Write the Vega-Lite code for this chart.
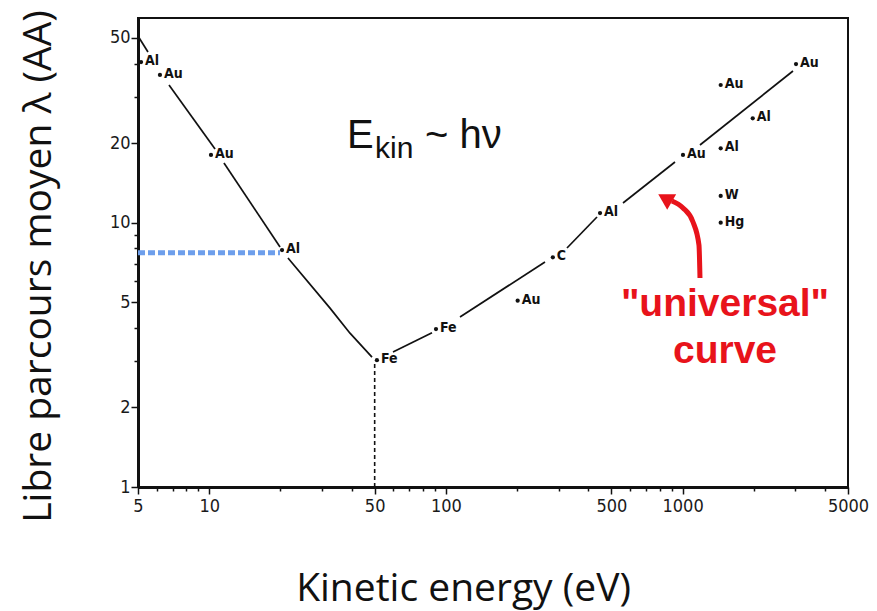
{
  "$schema": "https://vega.github.io/schema/vega-lite/v6.json",
  "width": 710,
  "height": 469,
  "autosize": "none",
  "padding": {"left": 138, "top": 18, "right": 29, "bottom": 124},
  "background": "white",
  "view": {"stroke": "#111111", "strokeWidth": 2},
  "config": {
    "axis": {
      "labelFont": "Liberation Sans Narrow, DejaVu Sans Condensed, sans-serif",
      "labelFontSize": 18,
      "labelColor": "#1a1a1a",
      "domainColor": "#111111",
      "domainWidth": 3,
      "tickColor": "#111111",
      "tickWidth": 1.5,
      "grid": false,
      "titleFont": "Open Sans",
      "titleFontSize": 39,
      "titleFontWeight": "normal",
      "titleColor": "#111111"
    }
  },
  "datasets": {
    "curve": [
      {"seg": 1, "x": 5.0, "y": 50.86},
      {"seg": 1, "x": 5.51, "y": 44.25},
      {"seg": 2, "x": 6.76, "y": 33.19},
      {"seg": 2, "x": 10.58, "y": 19.0},
      {"seg": 3, "x": 11.54, "y": 16.82},
      {"seg": 3, "x": 19.91, "y": 8.09},
      {"seg": 4, "x": 21.51, "y": 7.35},
      {"seg": 4, "x": 32.38, "y": 4.75},
      {"seg": 4, "x": 39.33, "y": 3.82},
      {"seg": 4, "x": 48.72, "y": 3.1},
      {"seg": 5, "x": 59.76, "y": 3.24},
      {"seg": 5, "x": 87.36, "y": 3.83},
      {"seg": 6, "x": 114.7, "y": 4.4},
      {"seg": 6, "x": 262.2, "y": 7.1},
      {"seg": 7, "x": 324.8, "y": 8.02},
      {"seg": 7, "x": 434.9, "y": 10.51},
      {"seg": 8, "x": 560.1, "y": 11.87},
      {"seg": 8, "x": 929.0, "y": 16.97},
      {"seg": 9, "x": 1184.5, "y": 19.68},
      {"seg": 9, "x": 2928, "y": 37.5}
    ],
    "points": [
      {"x": 5.15, "y": 40.55, "el": "Al"},
      {"x": 6.19, "y": 36.22, "el": "Au"},
      {"x": 10.17, "y": 18.04, "el": "Au"},
      {"x": 20.3, "y": 7.88, "el": "Al"},
      {"x": 51.1, "y": 3.02, "el": "Fe"},
      {"x": 90.8, "y": 3.96, "el": "Fe"},
      {"x": 201, "y": 5.07, "el": "Au"},
      {"x": 283, "y": 7.4, "el": "C"},
      {"x": 448, "y": 10.88, "el": "Al"},
      {"x": 1004, "y": 18.04, "el": "Au"},
      {"x": 1449, "y": 33.19, "el": "Au"},
      {"x": 1979, "y": 24.83, "el": "Al"},
      {"x": 1449, "y": 19.12, "el": "Al"},
      {"x": 1449, "y": 12.62, "el": "W"},
      {"x": 1449, "y": 10.0, "el": "Hg"},
      {"x": 3015, "y": 39.85, "el": "Au"}
    ],
    "arrow": [
      {"i": 1, "x": 1184.5, "y": 6.18},
      {"i": 2, "x": 1173, "y": 8.23},
      {"i": 3, "x": 1106.6, "y": 10.06},
      {"i": 4, "x": 1004, "y": 11.37},
      {"i": 5, "x": 902, "y": 12.08}
    ]
  },
  "layer": [
    {
      "data": {"values": [{"x": 5, "x2": 19.9, "y": 7.7}]},
      "mark": {"type": "rule", "color": "#6d9eeb", "strokeWidth": 5, "strokeDash": [7, 3]},
      "encoding": {
        "x": {
          "field": "x", "type": "quantitative",
          "scale": {"type": "log", "domain": [5, 5000], "nice": false},
          "axis": {
            "title": "Kinetic energy (eV)",
            "titleX": 325,
            "titleY": 113,
            "titleAnchor": "middle",
            "titleBaseline": "alphabetic",
            "domainWidth": 3,
            "values": [5, 6, 7, 8, 9, 10, 20, 30, 40, 50, 60, 70, 80, 90, 100, 200, 300, 400, 500, 600, 700, 800, 900, 1000, 2000, 3000, 4000, 5000],
            "format": "d",
            "labelExpr": "indexof([5, 10, 50, 100, 500, 1000, 5000], datum.value) >= 0 ? datum.label : ''",
            "tickSize": {"condition": {"test": "indexof([5, 10, 50, 100, 500, 1000, 5000], datum.value) >= 0", "value": 7}, "value": 4},
            "labelPadding": 3,
            "labelFlush": false,
            "labelOverlap": false
          }
        },
        "x2": {"field": "x2"},
        "y": {
          "field": "y", "type": "quantitative",
          "scale": {"type": "log", "domain": [1, 59.5], "nice": false},
          "axis": {
            "title": "Libre parcours moyen λ (AA)",
            "titleX": -100,
            "titleY": 248,
            "titleAnchor": "middle",
            "titleAngle": -90,
            "titleBaseline": "middle",
            "domainWidth": 3,
            "values": [1, 2, 3, 4, 5, 6, 7, 8, 9, 10, 20, 30, 40, 50],
            "format": "d",
            "labelExpr": "indexof([1, 2, 5, 10, 20, 50], datum.value) >= 0 ? datum.label : ''",
            "tickSize": {"condition": {"test": "indexof([1, 2, 5, 10, 20, 50], datum.value) >= 0", "value": 7}, "value": 4},
            "labelPadding": 1,
            "labelOverlap": false
          }
        }
      }
    },
    {
      "data": {"values": [{"x": 50, "y": 1, "y2": 3.0}]},
      "mark": {"type": "rule", "color": "#111111", "strokeWidth": 1.6, "strokeDash": [4, 3]},
      "encoding": {
        "x": {"field": "x", "type": "quantitative"},
        "y": {"field": "y", "type": "quantitative"},
        "y2": {"field": "y2"}
      }
    },
    {
      "data": {"name": "curve"},
      "mark": {"type": "line", "color": "#111111", "strokeWidth": 1.7, "interpolate": "linear"},
      "encoding": {
        "x": {"field": "x", "type": "quantitative"},
        "y": {"field": "y", "type": "quantitative"},
        "detail": {"field": "seg", "type": "nominal"}
      }
    },
    {
      "data": {"name": "points"},
      "mark": {"type": "point", "shape": "circle", "filled": true, "color": "#111111", "size": 18, "opacity": 1},
      "encoding": {
        "x": {"field": "x", "type": "quantitative"},
        "y": {"field": "y", "type": "quantitative"}
      }
    },
    {
      "data": {"name": "points"},
      "mark": {"type": "text", "align": "left", "baseline": "middle", "dx": 4, "dy": -1, "font": "Liberation Sans Narrow, DejaVu Sans Condensed, sans-serif", "fontWeight": "bold", "fontSize": 14, "color": "#111111"},
      "encoding": {
        "x": {"field": "x", "type": "quantitative"},
        "y": {"field": "y", "type": "quantitative"},
        "text": {"field": "el"}
      }
    },
    {
      "data": {"name": "arrow"},
      "mark": {"type": "line", "color": "#e8131b", "strokeWidth": 5, "interpolate": "monotone", "strokeCap": "butt"},
      "encoding": {
        "x": {"field": "x", "type": "quantitative"},
        "y": {"field": "y", "type": "quantitative"},
        "order": {"field": "i", "type": "quantitative"}
      }
    },
    {
      "data": {"values": [{"x": 842.6, "y": 12.4}]},
      "mark": {"type": "point", "shape": "triangle-up", "filled": true, "color": "#e8131b", "size": 320, "angle": 300, "opacity": 1},
      "encoding": {
        "x": {"field": "x", "type": "quantitative"},
        "y": {"field": "y", "type": "quantitative"}
      }
    },
    {
      "data": {"values": [{"x": 38.2, "y": 19.12, "t": "E"}, {"x": 81.6, "y": 19.12, "t": "~ hν"}]},
      "mark": {"type": "text", "align": "left", "baseline": "alphabetic", "font": "Liberation Sans", "fontSize": 40, "color": "#111111"},
      "encoding": {
        "x": {"field": "x", "type": "quantitative"},
        "y": {"field": "y", "type": "quantitative"},
        "text": {"field": "t"}
      }
    },
    {
      "data": {"values": [{"x": 50.16, "y": 17.52, "t": "kin"}]},
      "mark": {"type": "text", "align": "left", "baseline": "alphabetic", "font": "Liberation Sans", "fontSize": 30, "color": "#111111"},
      "encoding": {
        "x": {"field": "x", "type": "quantitative"},
        "y": {"field": "y", "type": "quantitative"},
        "text": {"field": "t"}
      }
    },
    {
      "data": {"values": [{"x": 1511, "y": 4.44, "t": "\"universal\""}, {"x": 1511, "y": 2.946, "t": "curve"}]},
      "mark": {"type": "text", "align": "center", "baseline": "alphabetic", "font": "Liberation Sans", "fontWeight": "bold", "fontSize": 39, "color": "#e8131b"},
      "encoding": {
        "x": {"field": "x", "type": "quantitative"},
        "y": {"field": "y", "type": "quantitative"},
        "text": {"field": "t"}
      }
    }
  ]
}
